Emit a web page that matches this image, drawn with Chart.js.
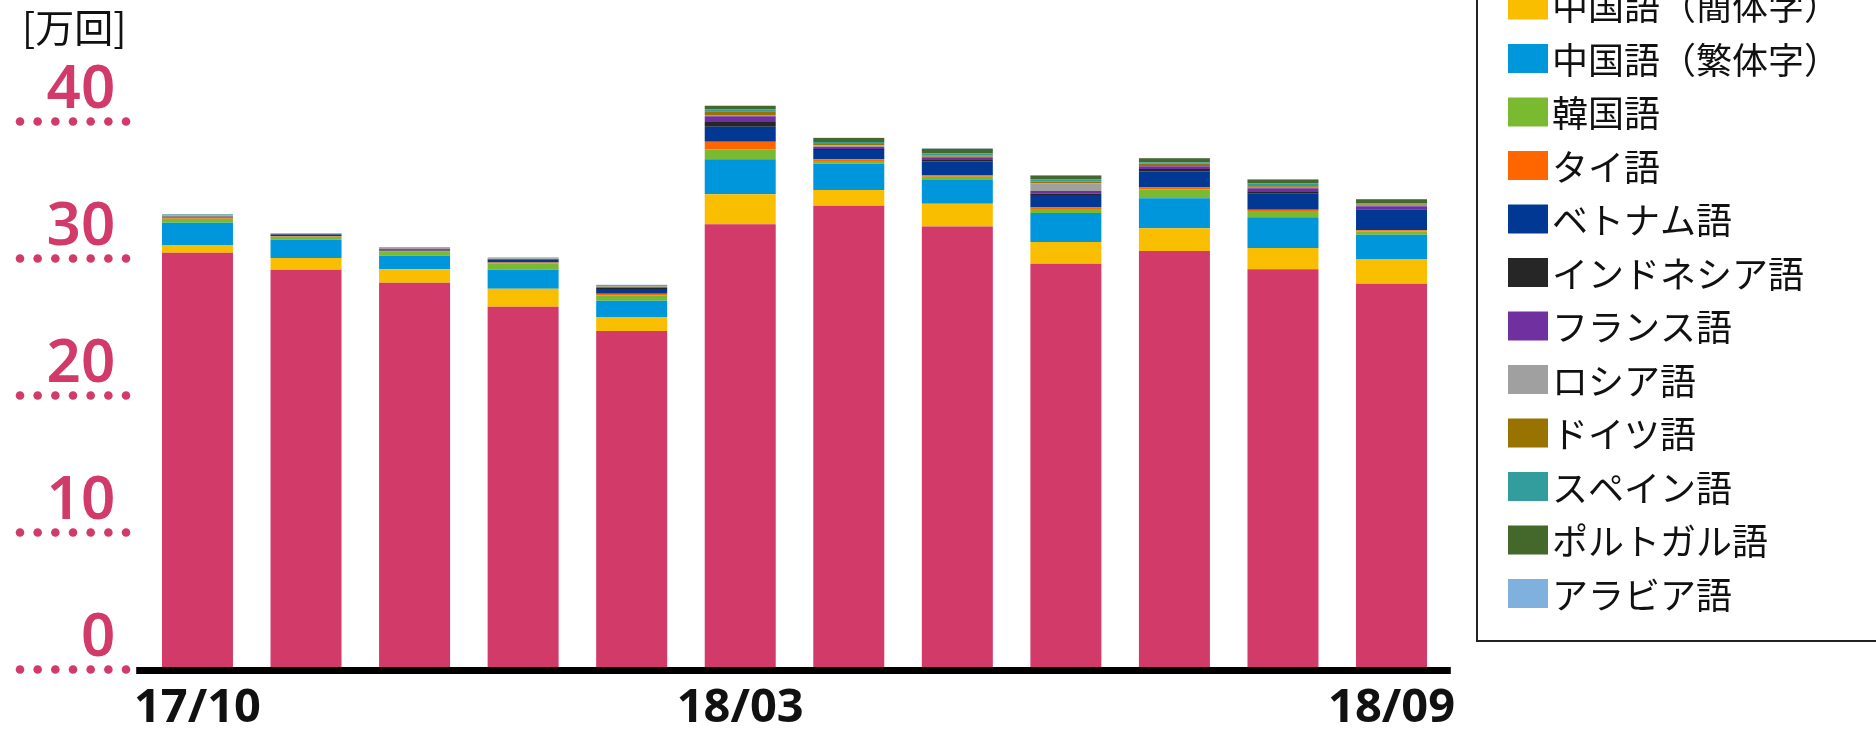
<!DOCTYPE html>
<html lang="ja">
<head>
<meta charset="utf-8">
<script src="https://cdn.jsdelivr.net/npm/chart.js@4.4.0/dist/chart.umd.min.js"></script>
<style>
  html, body { margin: 0; padding: 0; background: #fff; }
  #wrap { position: relative; width: 1876px; height: 730px; overflow: hidden; }
</style>
</head>
<body>
<div id="wrap"><canvas id="chart" width="1876" height="730"></canvas></div>
<script>
// 月（横軸）
const months = ["17/10", "17/11", "17/12", "18/01", "18/02", "18/03", "18/04", "18/05", "18/06", "18/07", "18/08", "18/09"];
const shownTicks = ["17/10", "18/03", "18/09"];
const yTicks = [0, 10, 20, 30, 40];
const unitLabel = "[万回]";

// 言語別アクセス数 [万回]
const english = [30.42, 29.18, 28.23, 26.48, 24.71, 32.50, 33.85, 32.34, 29.62, 30.55, 29.22, 28.16];
const chineseSimplified = [0.56, 0.85, 0.98, 1.31, 1.02, 2.19, 1.15, 1.66, 1.58, 1.66, 1.55, 1.77];
const chineseTraditional = [1.63, 1.34, 0.99, 1.39, 1.19, 2.55, 1.92, 1.73, 2.12, 2.19, 2.24, 1.80];
const korean = [0.29, 0.22, 0.29, 0.47, 0.39, 0.73, 0.20, 0.24, 0.29, 0.64, 0.46, 0.24];
const thai = [0.08, 0.04, 0.07, 0.05, 0.12, 0.55, 0.12, 0.09, 0.12, 0.15, 0.09, 0.09];
const vietnamese = [0.04, 0.12, 0.10, 0.20, 0.35, 1.09, 0.68, 1.04, 0.90, 1.17, 1.17, 1.51];
const indonesian = [0.02, 0.02, 0.03, 0.04, 0.07, 0.36, 0.07, 0.09, 0.12, 0.17, 0.17, 0.05];
const french = [0.03, 0.02, 0.03, 0.03, 0.06, 0.42, 0.15, 0.20, 0.17, 0.20, 0.22, 0.20];
const russian = [0.06, 0.02, 0.03, 0.03, 0.04, 0.09, 0.12, 0.03, 0.58, 0.03, 0.05, 0.03];
const german = [0.03, 0.02, 0.03, 0.02, 0.05, 0.27, 0.09, 0.09, 0.12, 0.15, 0.10, 0.09];
const spanish = [0.03, 0.01, 0.02, 0.02, 0.03, 0.15, 0.15, 0.15, 0.15, 0.12, 0.20, 0.09];
const portuguese = [0.03, 0.01, 0.02, 0.02, 0.04, 0.24, 0.29, 0.36, 0.29, 0.29, 0.29, 0.29];
const arabic = [0.02, 0.01, 0.01, 0.01, 0.02, 0.02, 0.02, 0.02, 0.02, 0.02, 0.02, 0.02];

const PINK = "#d13a69";
const JP_FONT = '"Noto Sans CJK JP", "Noto Sans", sans-serif';

function series(label, data, color) {
  return {
    label,
    data,
    backgroundColor: color,
    borderWidth: 0,
    categoryPercentage: 1,
    barPercentage: 0.654,
  };
}

// 目盛りの点線・軸線・単位・凡例
const decorPlugin = {
  id: "decor",
  afterDraw(chart) {
    const ctx = chart.ctx;
    const yScale = chart.scales.y;
    const area = chart.chartArea;
    ctx.save();

    ctx.fillStyle = "#111";
    ctx.font = "39px " + JP_FONT;
    ctx.textBaseline = "top";
    ctx.textAlign = "left";
    ctx.fillText(unitLabel, 22, 8);

    ctx.fillStyle = PINK;
    yScale.ticks.forEach((t) => {
      const y = yScale.getPixelForValue(t.value);
      for (let k = 0; k < 7; k++) {
        ctx.beginPath();
        ctx.arc(20 + k * 17.67, y, 4.3, 0, Math.PI * 2);
        ctx.fill();
      }
    });

    const y0 = yScale.getPixelForValue(0);
    ctx.fillStyle = "#000";
    ctx.fillRect(area.left - 7, y0 - 2.5, area.right - area.left + 12, 7);

    ctx.strokeStyle = "#222";
    ctx.lineWidth = 2;
    ctx.strokeRect(1477, -100, 500, 741);
    ctx.font = "36px " + JP_FONT;
    ctx.textBaseline = "middle";
    chart.data.datasets.forEach((ds, i) => {
      const top = -63 + i * 53.5;
      ctx.fillStyle = ds.backgroundColor;
      ctx.fillRect(1508, top, 40, 29);
      ctx.fillStyle = "#111";
      ctx.fillText(ds.label, 1552, top + 16);
    });

    ctx.restore();
  },
};

new Chart(document.getElementById("chart"), {
  type: "bar",
  data: {
    labels: months,
    datasets: [
      series("英語", english, PINK),
      series("中国語（簡体字）", chineseSimplified, "#f9be00"),
      series("中国語（繁体字）", chineseTraditional, "#0096db"),
      series("韓国語", korean, "#7aba30"),
      series("タイ語", thai, "#ff6600"),
      series("ベトナム語", vietnamese, "#003893"),
      series("インドネシア語", indonesian, "#262626"),
      series("フランス語", french, "#7030a0"),
      series("ロシア語", russian, "#a0a0a0"),
      series("ドイツ語", german, "#997300"),
      series("スペイン語", spanish, "#339c9c"),
      series("ポルトガル語", portuguese, "#44672b"),
      series("アラビア語", arabic, "#7fb0de"),
    ],
  },
  options: {
    responsive: false,
    animation: false,
    devicePixelRatio: 1,
    layout: {
      padding: { left: 0, right: 430.2, top: 53, bottom: 0 },
    },
    plugins: {
      legend: { display: false },
      tooltip: { enabled: false },
    },
    scales: {
      x: {
        stacked: true,
        grid: { display: false, drawTicks: false },
        border: { display: false },
        ticks: {
          autoSkip: false,
          maxRotation: 0,
          minRotation: 0,
          padding: 11,
          color: "#111",
          font: { family: "Noto Sans", size: 47, weight: "bold" },
          callback: (val, i) => (shownTicks.includes(months[i]) ? months[i] : ""),
        },
        afterFit: (s) => {
          s.height = 60.5;
        },
      },
      y: {
        stacked: true,
        min: 0,
        max: 45,
        grid: { display: false, drawTicks: false },
        border: { display: false },
        ticks: {
          stepSize: 10,
          padding: 28,
          labelOffset: -31,
          color: PINK,
          font: { family: "Noto Sans", size: 60, weight: "600", lineHeight: 0.5 },
        },
        afterBuildTicks: (s) => {
          s.ticks = yTicks.map((v) => ({ value: v }));
        },
        afterFit: (s) => {
          s.width = 143.2;
        },
      },
    },
  },
  plugins: [decorPlugin],
});
</script>
</body>
</html>
